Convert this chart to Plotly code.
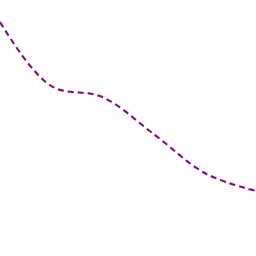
import plotly.graph_objects as go

x_vals = [0, 1, 2, 3, 4, 5]
y_vals = [234, 170, 159, 122, 83, 65]

fig = go.Figure(go.Scatter(
    x=x_vals, y=y_vals, mode="lines",
    line=dict(color="#800080", width=2, dash="6px,4px", shape="spline"),
))
fig.update_layout(
    width=256, height=256, margin=dict(l=0, r=0, t=0, b=0),
    paper_bgcolor="white", plot_bgcolor="white", showlegend=False,
    xaxis=dict(visible=False, range=[0, 5]),
    yaxis=dict(visible=False, range=[0, 256]),
)
fig.write_html("out.html")
